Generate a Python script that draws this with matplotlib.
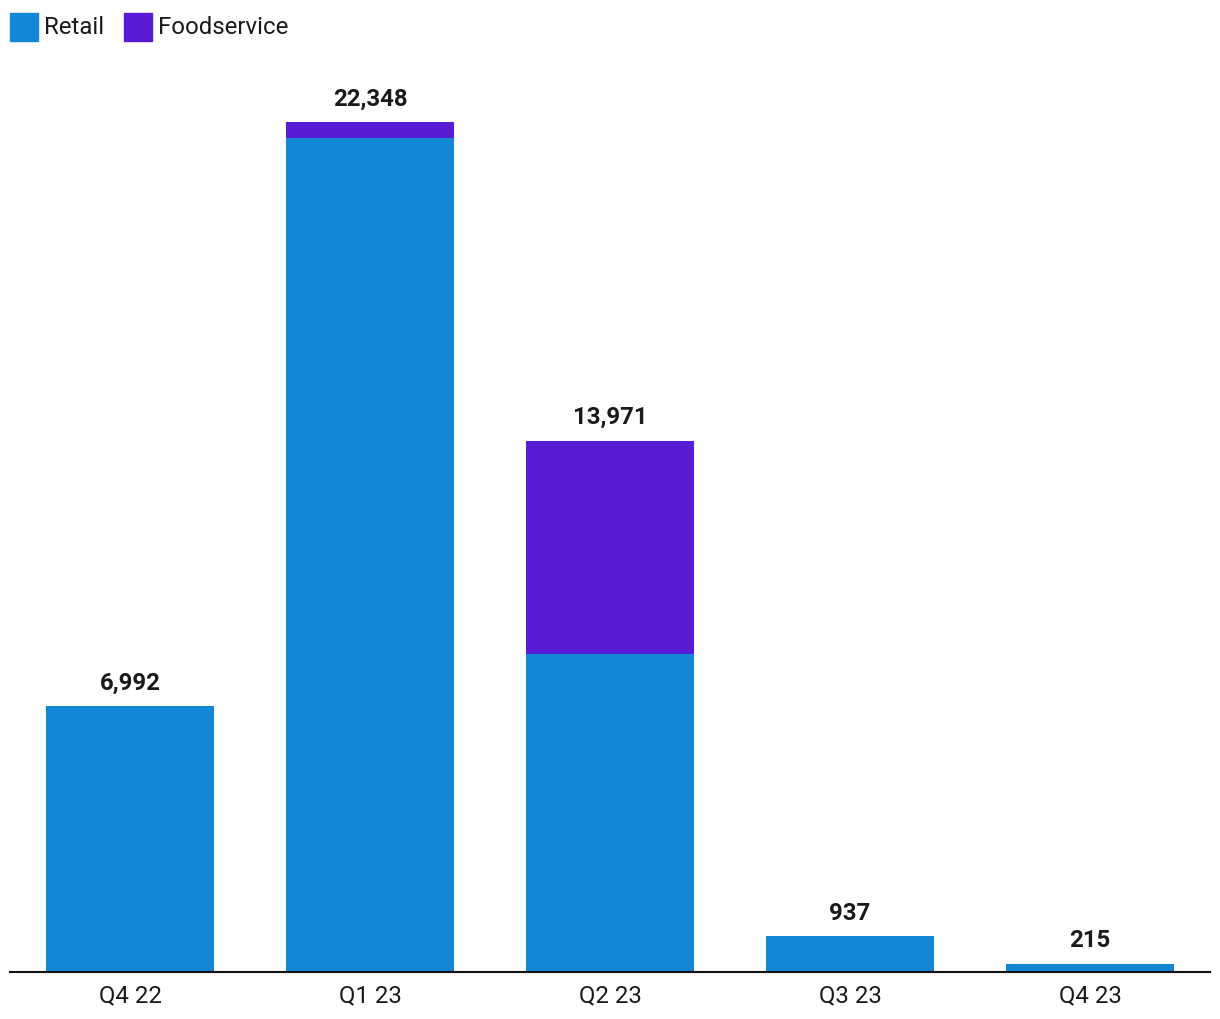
import matplotlib
matplotlib.use("Agg")
import matplotlib.pyplot as plt
from matplotlib.patches import Rectangle
import numpy as np

categories = ["Q4 22", "Q1 23", "Q2 23", "Q3 23", "Q4 23"]
retail = [6992, 21927, 8370, 937, 215]
foodservice = [0, 421, 5601, 0, 0]
totals = [6992, 22348, 13971, 937, 215]
series_names = ["Retail", "Foodservice"]
colors = ["#1287D6", "#5A1BD6"]

plt.rcParams['font.family'] = ['Roboto', 'DejaVu Sans']

W, H = 1220, 1020
fig = plt.figure(figsize=(W/100, H/100), dpi=100)
left, right, bottom, top = 10, 1210, 973, 61
ax = fig.add_axes([left/W, (H-bottom)/H, (right-left)/W, (bottom-top)/H])

x = np.arange(len(categories))
ax.bar(x, retail, width=0.7, color=colors[0], zorder=2)
ax.bar(x, foodservice, width=0.7, bottom=retail, color=colors[1], zorder=2)

scale = 22348/850.0
ax.set_ylim(0, (bottom-top)*scale)
ax.set_xlim(-0.5, len(categories)-0.5)

for xi, t in zip(x, totals):
    ax.annotate(f"{t:,}", (xi, t), xytext=(0, 9), textcoords="offset points",
                ha="center", va="bottom", fontsize=17.3, fontweight="bold", color="#1a1a1a")

for s in ["top", "right", "left"]:
    ax.spines[s].set_visible(False)
ax.spines["bottom"].set_linewidth(1.5)
ax.spines["bottom"].set_color("#111111")
ax.set_yticks([])
ax.set_xticks(x)
ax.set_xticklabels(categories, fontsize=17.3, color="#1a1a1a")
ax.tick_params(axis="x", length=0, pad=8.5)

# legend
lx = 10
for name, c in zip(series_names, colors):
    fig.patches.append(Rectangle((lx/W, (H-42)/H), 28/W, 28/H, transform=fig.transFigure,
                                 color=c, figure=fig))
    t = fig.text((lx+34)/W, (H-27)/H, name, fontsize=17.3, va="center", ha="left", color="#1a1a1a")
    fig.canvas.draw()
    bb = t.get_window_extent()
    lx = bb.x1 + 20

fig.savefig("out.png", dpi=100)
